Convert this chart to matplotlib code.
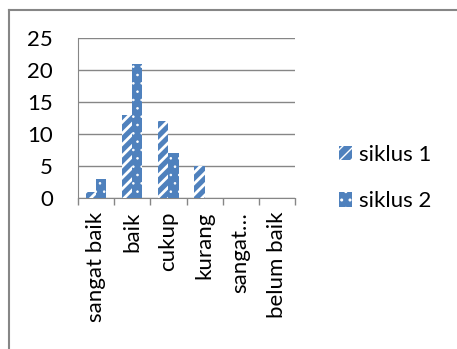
import numpy as np
import matplotlib.pyplot as plt
from matplotlib.lines import Line2D

# data
categories = ['sangat baik', 'baik', 'cukup', 'kurang', 'sangat…', 'belum baik']
siklus_1 = [1, 13, 12, 5, 0, 0]
siklus_2 = [3, 21, 7, 0, 0, 0]
y_ticks = [0, 5, 10, 15, 20, 25]

blue = '#4F81BD'
grey = '#868686'
plt.rcParams['font.family'] = ['Lato', 'DejaVu Sans']
plt.rcParams['hatch.color'] = 'white'

W, H = 457, 349
fig = plt.figure(figsize=(W / 100, H / 100), dpi=100)

# outer chart border (right and bottom edges fall outside the image)
fig.add_artist(Line2D([0.0195, 0.0195], [0, 0.972], color=grey, linewidth=1.5,
                      transform=fig.transFigure, solid_capstyle='projecting'))
fig.add_artist(Line2D([0.0195, 1.0], [0.972, 0.972], color=grey, linewidth=1.5,
                      transform=fig.transFigure, solid_capstyle='projecting'))

ax = fig.add_axes([78 / W, 1 - 198 / H, (295 - 78) / W, (198 - 38) / H])

x = np.arange(len(categories))
w = 0.28
b1 = ax.bar(x - w / 2, siklus_1, w, color=blue, hatch='///', edgecolor='white',
            linewidth=0, label='siklus 1', zorder=3)
b2 = ax.bar(x + w / 2, siklus_2, w, color=blue, hatch='..', edgecolor='white',
            linewidth=0, label='siklus 2', zorder=3)
for p in b1:
    if hasattr(p, 'set_hatch_linewidth'):
        p.set_hatch_linewidth(2.0)
for p in b2:
    if hasattr(p, 'set_hatch_linewidth'):
        p.set_hatch_linewidth(0.6)

ax.set_xlim(-0.5, len(categories) - 0.5)
ax.set_ylim(0, 25)
ax.set_yticks(y_ticks)
ax.set_yticklabels([str(t) for t in y_ticks], fontsize=16)
ax.yaxis.grid(True, color=grey, linewidth=1)
ax.set_axisbelow(True)
ax.tick_params(axis='y', length=0, pad=18)

ax.set_xticks(x)
ax.set_xticklabels(categories, rotation=90, fontsize=16, va='top')
ax.set_xticks(np.arange(len(categories) + 1) - 0.5, minor=True)
ax.tick_params(axis='x', which='major', length=0, pad=10)
ax.tick_params(axis='x', which='minor', length=5, color=grey, width=1)

for s in ['top', 'right']:
    ax.spines[s].set_visible(False)
for s in ['left', 'bottom']:
    ax.spines[s].set_color(grey)

ax.legend(loc='center left', bbox_to_anchor=(319 / W, 1 - 178 / H),
          bbox_transform=fig.transFigure, frameon=False, fontsize=16,
          handlelength=0.6, handleheight=0.6, handletextpad=0.3,
          labelspacing=1.2)

fig.savefig('out.png', dpi=100)
